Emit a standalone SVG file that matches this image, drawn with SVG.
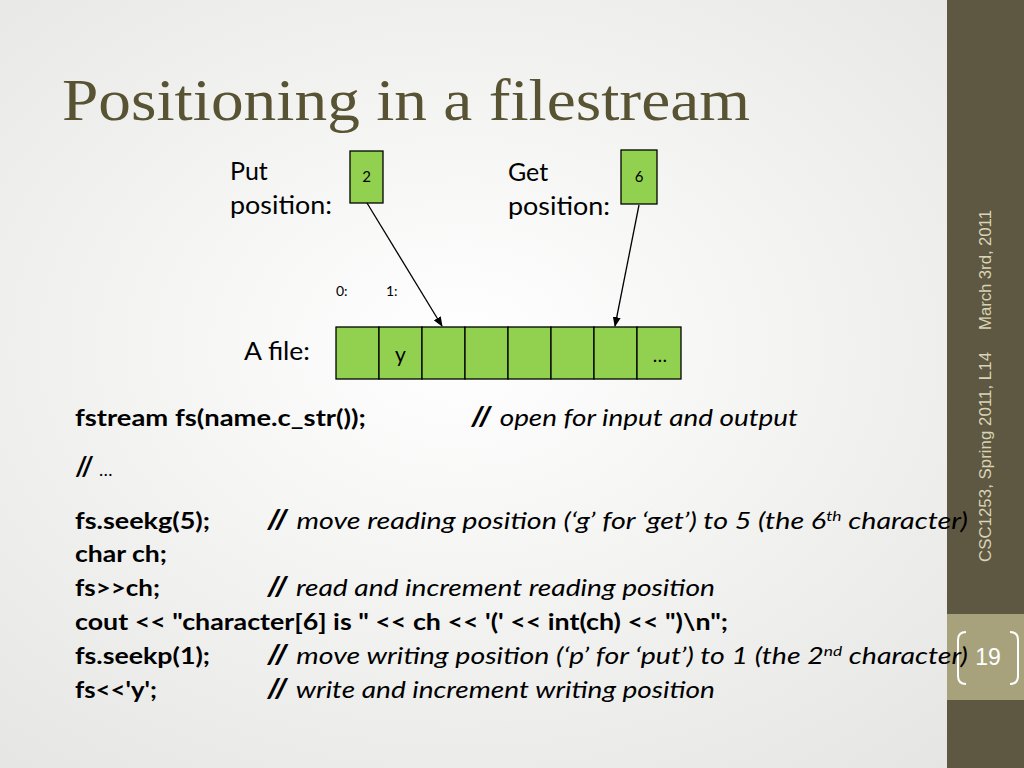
<svg xmlns="http://www.w3.org/2000/svg" width="1024" height="768" viewBox="0 0 1024 768">
<defs>
<radialGradient id="bg" cx="0.45" cy="0.45" r="0.75"><stop offset="0" stop-color="#ffffff"/><stop offset="1" stop-color="#e4e4e2"/></radialGradient>
<marker id="ah" markerWidth="10" markerHeight="8" refX="9" refY="4" orient="auto" markerUnits="userSpaceOnUse"><path d="M0,0 L10,4 L0,8 z" fill="#000"/></marker>
<style>
.t{font-family:Lato,"Open Sans",sans-serif;fill:#000}
.c{font-family:Lato,"Open Sans",sans-serif;font-size:23px;font-weight:bold}
.i{font-style:italic;font-weight:normal}
.cell{fill:#92d050;stroke:#000;stroke-width:1.3}
.side{font-family:"Liberation Sans",Arial,sans-serif;font-size:16.8px;fill:#d8d4b4}
</style>
</defs>
<rect width="1024" height="768" fill="url(#bg)"/>
<rect x="947" y="0" width="77" height="768" fill="#5e5842"/>
<rect x="947" y="614" width="77" height="86" fill="#a8a27c"/>
<text class="side" transform="translate(991,330) rotate(-90)" textLength="120">March 3rd, 2011</text>
<text class="side" transform="translate(991,562) rotate(-90)" textLength="210">CSC1253, Spring 2011, L14</text>
<text x="988" y="665" font-family="Liberation Sans,Arial,sans-serif" font-size="23" fill="#fff" text-anchor="middle">19</text>
<path d="M966,632 Q958,632 958,640 L958,676 Q958,684 966,684" fill="none" stroke="#fff" stroke-width="2"/>
<path d="M1010,632 Q1018,632 1018,640 L1018,676 Q1018,684 1010,684" fill="none" stroke="#fff" stroke-width="2"/>
<text x="62" y="120" font-family="Liberation Serif,serif" font-size="60" fill="#585333" textLength="688" lengthAdjust="spacingAndGlyphs">Positioning in a filestream</text>
<text class="t" font-size="25" x="230" y="180">Put</text>
<text class="t" font-size="25" x="230" y="214" textLength="102" lengthAdjust="spacingAndGlyphs">position:</text>
<text class="t" font-size="25" x="508" y="181">Get</text>
<text class="t" font-size="25" x="508" y="215" textLength="102" lengthAdjust="spacingAndGlyphs">position:</text>
<text class="t" font-size="25" x="244" y="360" textLength="66" lengthAdjust="spacingAndGlyphs">A file:</text>
<text class="t" font-size="14" x="336" y="296">0:</text>
<text class="t" font-size="14" x="386" y="296">1:</text>
<g id="putbox"><rect class="cell" x="350" y="151" width="33" height="52"/><text class="t" font-size="15" x="366.5" y="182" text-anchor="middle">2</text></g>
<g id="getbox"><rect class="cell" x="621" y="150" width="36" height="54"/><text class="t" font-size="15" x="639" y="182" text-anchor="middle">6</text></g>
<g id="file">
<rect class="cell" x="336" y="327" width="43" height="52"/>
<rect class="cell" x="379" y="327" width="43" height="52"/>
<rect class="cell" x="422" y="327" width="43" height="52"/>
<rect class="cell" x="465" y="327" width="43" height="52"/>
<rect class="cell" x="508" y="327" width="43" height="52"/>
<rect class="cell" x="551" y="327" width="43" height="52"/>
<rect class="cell" x="594" y="327" width="43" height="52"/>
<rect class="cell" x="637" y="327" width="44" height="52"/>
<text class="t" font-size="21" x="395" y="362">y</text>
<text class="t" font-size="19" x="660" y="362" text-anchor="middle">…</text>
</g>
<g id="connectors" stroke="#000" stroke-width="1.3">
<line x1="367" y1="203" x2="442" y2="326" marker-end="url(#ah)"/>
<line x1="639" y1="205" x2="615" y2="326" marker-end="url(#ah)"/>
</g>
<g class="c">
<text x="75" y="426" textLength="291" lengthAdjust="spacingAndGlyphs">fstream fs(name.c_str());</text>
<text x="470" y="426" textLength="328" lengthAdjust="spacingAndGlyphs"><tspan font-size="27">//</tspan> <tspan class="i">open for input and output</tspan></text>
<text x="75" y="476"><tspan font-size="27">//</tspan> <tspan class="i" font-size="18">…</tspan></text>
<text x="75" y="529" textLength="135" lengthAdjust="spacingAndGlyphs">fs.seekg(5);</text>
<text x="266" y="529" textLength="702" lengthAdjust="spacingAndGlyphs"><tspan font-size="27">//</tspan> <tspan class="i">move reading position (‘g’ for ‘get’) to 5 (the 6<tspan font-size="14" dy="-8">th</tspan><tspan dy="8"> character)</tspan></tspan></text>
<text x="75" y="562" textLength="92" lengthAdjust="spacingAndGlyphs">char ch;</text>
<text x="75" y="596" textLength="85" lengthAdjust="spacingAndGlyphs">fs&gt;&gt;ch;</text>
<text x="266" y="596" textLength="449" lengthAdjust="spacingAndGlyphs"><tspan font-size="27">//</tspan> <tspan class="i">read and increment reading position</tspan></text>
<text x="75" y="630" textLength="653" lengthAdjust="spacingAndGlyphs">cout &lt;&lt; "character[6] is " &lt;&lt; ch &lt;&lt; '(' &lt;&lt; int(ch) &lt;&lt; ")\n";</text>
<text x="75" y="664" textLength="135" lengthAdjust="spacingAndGlyphs">fs.seekp(1);</text>
<text x="266" y="664" textLength="702" lengthAdjust="spacingAndGlyphs"><tspan font-size="27">//</tspan> <tspan class="i">move writing position (‘p’ for ‘put’) to 1 (the 2<tspan font-size="14" dy="-8">nd</tspan><tspan dy="8"> character)</tspan></tspan></text>
<text x="75" y="698" textLength="82" lengthAdjust="spacingAndGlyphs">fs&lt;&lt;'y';</text>
<text x="266" y="698" textLength="449" lengthAdjust="spacingAndGlyphs"><tspan font-size="27">//</tspan> <tspan class="i">write and increment writing position</tspan></text>
</g>
</svg>
